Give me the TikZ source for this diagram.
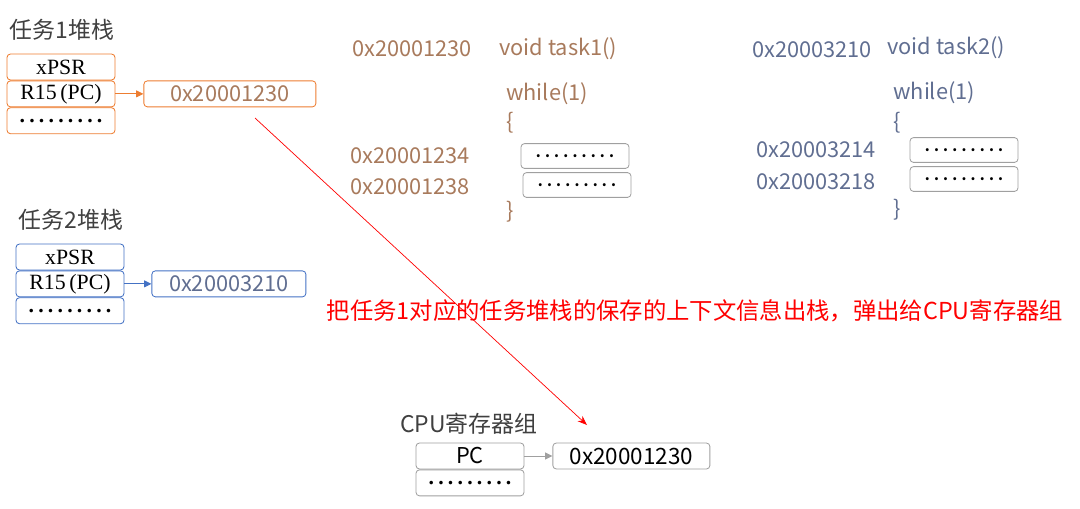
\documentclass[tikz,border=0pt]{standalone}
\usepackage{fontspec}
\setmainfont{Noto Sans CJK SC}
\newfontfamily\regfont{Liberation Serif}
\usetikzlibrary{arrows.meta,positioning}

\definecolor{stackorange}{RGB}{237,125,49}
\definecolor{addrbrown}{RGB}{168,122,92}
\definecolor{stackblue}{RGB}{68,114,196}
\definecolor{addrblue}{RGB}{96,110,145}
\definecolor{cpugray}{RGB}{160,160,160}

\newcommand{\dotrow}{\textbf{.\kern3pt.\kern3pt.\kern3pt.\kern3pt.\kern3pt.\kern3pt.\kern3pt.\kern3pt.}}

\begin{document}
\begin{tikzpicture}[
    x=0.025cm, y=-0.025cm,
    title/.style={font=\fontsize{16.3}{18}\selectfont, text=black!75},
    cell/.style={draw, rounded corners=2.5pt, line width=0.6pt,
                 minimum width=2.7cm, minimum height=0.65cm, inner sep=0pt,
                 font=\regfont\fontsize{15.5}{17}\selectfont},
    valbox/.style={draw, rounded corners=2.5pt, line width=0.6pt,
                   minimum height=0.65cm, inner sep=0pt,
                   font=\fontsize{15.5}{17}\selectfont},
    codebox/.style={draw=cpugray, rounded corners=2.5pt, line width=0.6pt,
                    minimum width=2.7cm, minimum height=0.62cm, inner sep=0pt},
    code/.style={font=\fontsize{15.5}{17}\selectfont, inner sep=0pt},
    ptr/.style={-{Triangle[length=1.8mm,width=1.7mm]}, line width=0.6pt},
    popline/.style={-{Stealth[length=2.4mm,width=1.8mm]}, red, line width=0.5pt}
  ]
    \useasboundingbox (0,0) rectangle (1080,508);

    % task 1 stack
    \node[title] (t1title) at (62,30) {任务1堆栈};
    \node[cell, draw=stackorange] (t1xpsr) at (61,67) {xPSR};
    \node[cell, draw=stackorange, below=0pt of t1xpsr] (t1pc) {R15\,(PC)};
    \node[cell, draw=stackorange, below=0pt of t1pc] (t1dots) {\dotrow};
    \node[valbox, draw=stackorange, text=addrbrown, minimum width=4.3cm,
          right=0.7cm of t1pc] (t1val) {0x20001230};
    \draw[ptr, stackorange] (t1pc) -- (t1val);

    % task 2 stack
    \node[title] (t2title) at (71,220) {任务2堆栈};
    \node[cell, draw=stackblue] (t2xpsr) at (70,257) {xPSR};
    \node[cell, draw=stackblue, below=0pt of t2xpsr] (t2pc) {R15\,(PC)};
    \node[cell, draw=stackblue, below=0pt of t2pc] (t2dots) {\dotrow};
    \node[valbox, draw=stackblue, text=addrblue, minimum width=3.85cm,
          right=0.675cm of t2pc] (t2val) {0x20003210};
    \draw[ptr, stackblue] (t2pc) -- (t2val);

    % task1 code
    \begin{scope}[every node/.style={code, text=addrbrown}]
      \node (c1addr) at (412,49) {0x20001230};
      \node[anchor=west] (c1head) at (499,49) {void task1()};
      \node[anchor=west] (c1while) at (506,94) {while(1)};
      \node[anchor=west] (c1open) at (506,123) {\{};
      \node (c1addrA) at (410,156) {0x20001234};
      \node (c1addrB) at (410,187) {0x20001238};
      \node[anchor=west] (c1close) at (506,212) {\}};
    \end{scope}
    \node[codebox] (c1lineA) at (575,156) {\dotrow};
    \node[codebox] (c1lineB) at (577,185) {\dotrow};

    % task2 code
    \begin{scope}[every node/.style={code, text=addrblue}]
      \node (c2addr) at (812,50) {0x20003210};
      \node[anchor=west] (c2head) at (887,48) {void task2()};
      \node[anchor=west] (c2while) at (893,93) {while(1)};
      \node[anchor=west] (c2open) at (893,123) {\{};
      \node (c2addrA) at (816,150) {0x20003214};
      \node (c2addrB) at (816,182) {0x20003218};
      \node[anchor=west] (c2close) at (893,210) {\}};
    \end{scope}
    \node[codebox] (c2lineA) at (964,150) {\dotrow};
    \node[codebox] (c2lineB) at (964,179) {\dotrow};

    % note
    \node[red, font=\fontsize{16.6}{19}\selectfont] (note) at (695,311)
      {把任务1对应的任务堆栈的保存的上下文信息出栈，弹出给CPU寄存器组};

    % CPU registers
    \node[title] (cputitle) at (469,424) {CPU寄存器组};
    \node[cell, draw=cpugray, font=\fontsize{15.5}{17}\selectfont] (cpupc) at (470,456) {PC};
    \node[cell, draw=cpugray, below=0pt of cpupc] (cpudots) {\dotrow};
    \node[valbox, draw=cpugray, minimum width=3.925cm,
          font=\fontsize{16}{17}\selectfont,
          right=0.7cm of cpupc] (cpuval) {0x20001230};
    \draw[ptr, cpugray] (cpupc) -- (cpuval);

    % pop to cpu
    \coordinate (popstart) at (255,118);
    \coordinate (popend) at (587,425);
    \draw[popline] (popstart) -- (popend);
  \end{tikzpicture}
\end{document}
